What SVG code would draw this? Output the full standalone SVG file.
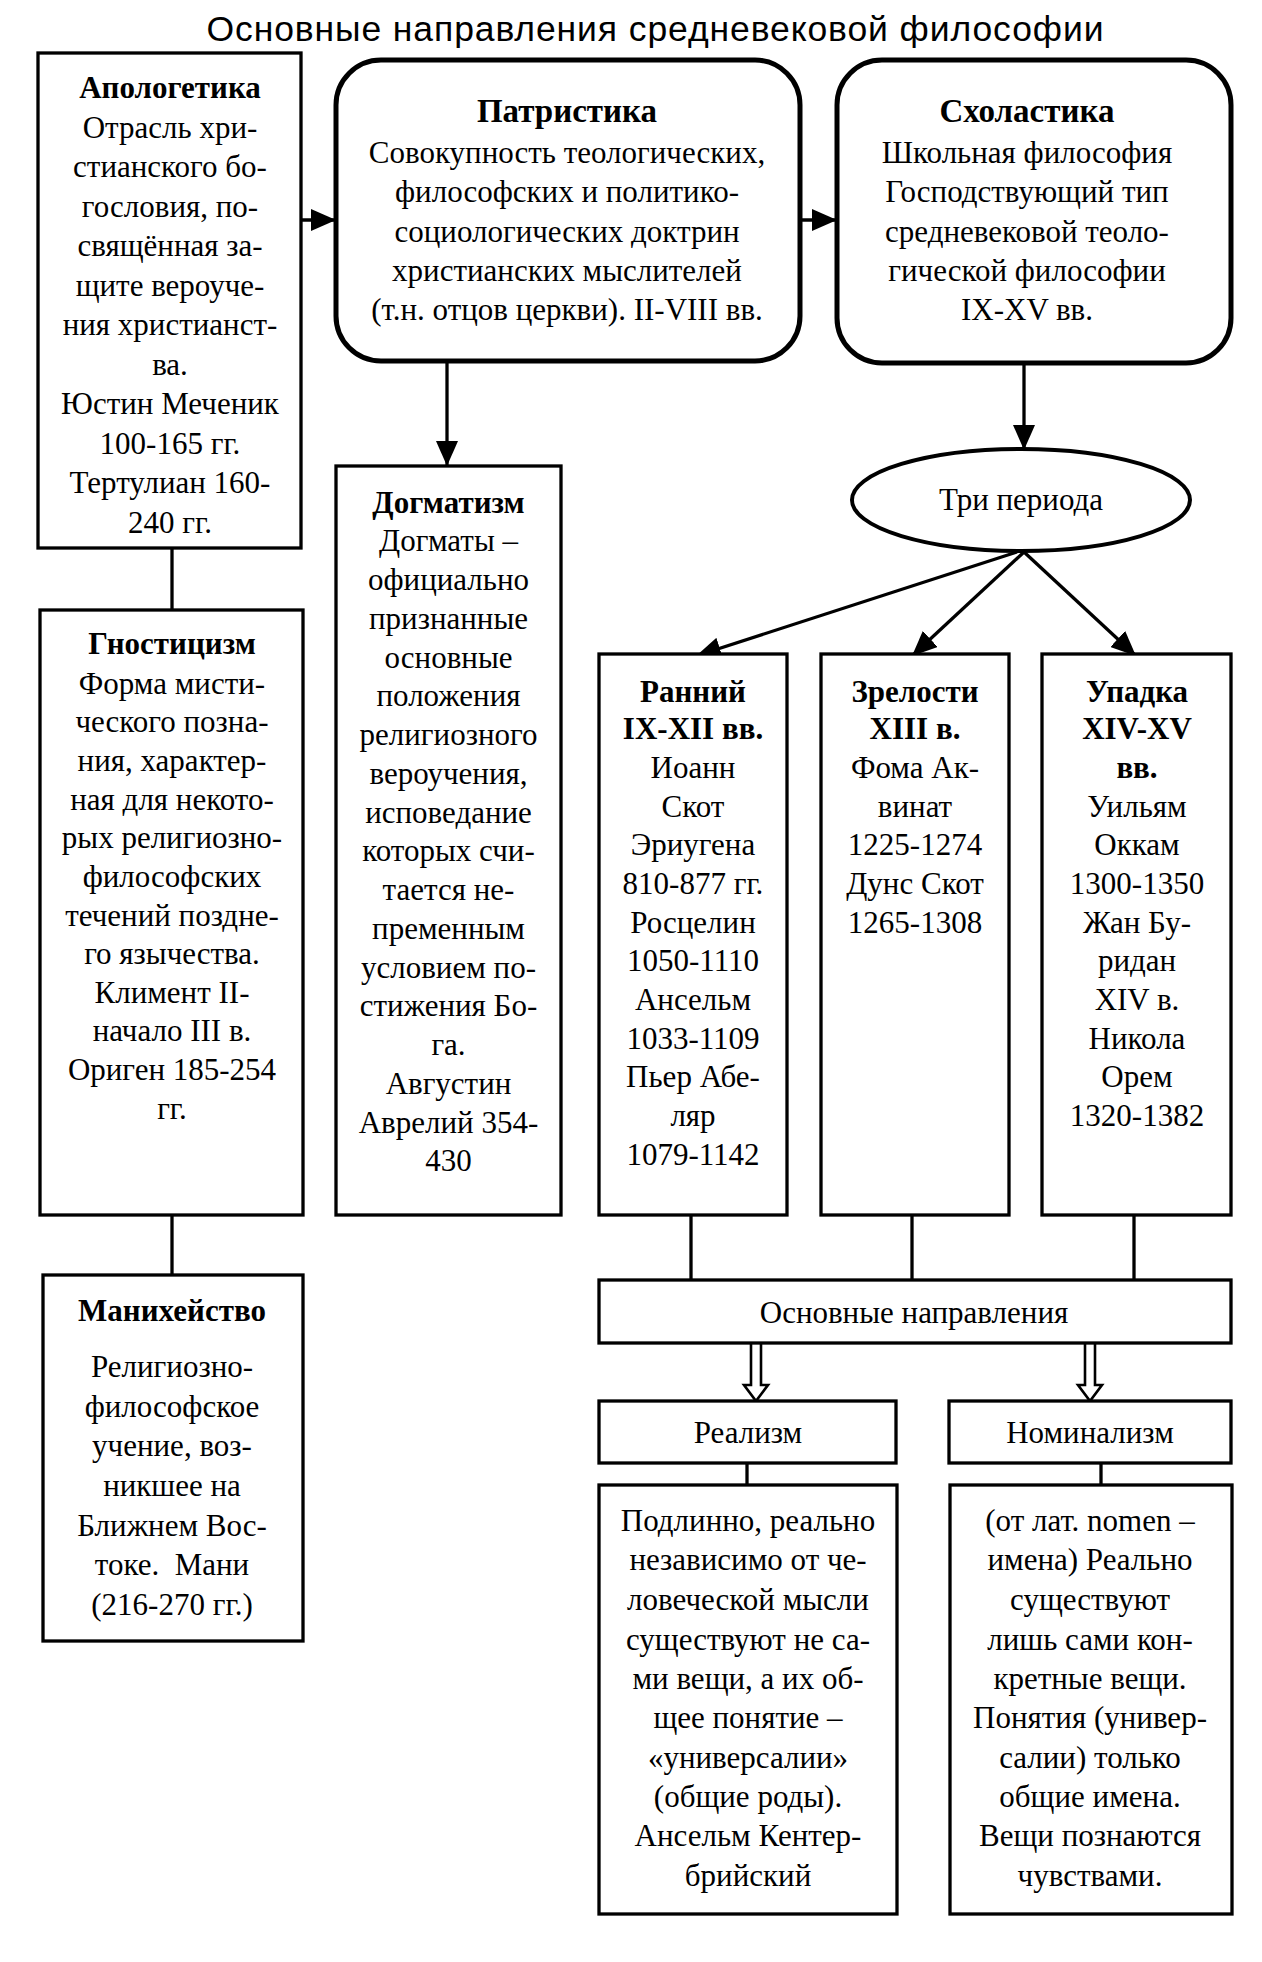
<svg xmlns="http://www.w3.org/2000/svg" width="1262" height="1962" viewBox="0 0 1262 1962">
<style>
.bx{fill:#fff;stroke:#000;stroke-width:3.3}
.rb{fill:#fff;stroke:#000;stroke-width:5}
.ln{fill:none;stroke:#000;stroke-width:3.3}
.da{fill:#fff;stroke:#000;stroke-width:2.6}
text{font-family:"Liberation Serif","Times New Roman",serif;font-size:31px;fill:#000;text-anchor:middle}
.h{font-weight:bold}
.hh{font-weight:bold;font-size:33px}
.ttl{font-family:"Liberation Sans",Arial,sans-serif;font-size:35.5px}
</style>
<defs>
<marker id="ah" markerWidth="25" markerHeight="22" refX="25" refY="11" orient="auto" markerUnits="userSpaceOnUse"><path d="M0,0 L25,11 L0,22 Z" fill="#000"/></marker>
</defs>
<rect width="1262" height="1962" fill="#fff"/>
<text class="ttl" x="655" y="41" textLength="897">Основные направления средневековой философии</text>

<g id="connectors">
<line class="ln" x1="301" y1="220" x2="336" y2="220" marker-end="url(#ah)"/>
<line class="ln" x1="800" y1="220" x2="837" y2="220" marker-end="url(#ah)"/>
<line class="ln" x1="447" y1="361" x2="447" y2="466" marker-end="url(#ah)"/>
<line class="ln" x1="1024" y1="363" x2="1024" y2="450" marker-end="url(#ah)"/>
<line class="ln" x1="1017" y1="552" x2="696" y2="656" marker-end="url(#ah)"/>
<line class="ln" x1="1024" y1="552" x2="912" y2="656" marker-end="url(#ah)"/>
<line class="ln" x1="1024" y1="552" x2="1136" y2="656" marker-end="url(#ah)"/>
<line class="ln" x1="172" y1="548" x2="172" y2="610"/>
<line class="ln" x1="172" y1="1215" x2="172" y2="1275"/>
<line class="ln" x1="691" y1="1215" x2="691" y2="1280"/>
<line class="ln" x1="912" y1="1215" x2="912" y2="1280"/>
<line class="ln" x1="1134" y1="1215" x2="1134" y2="1280"/>
<line class="ln" x1="747" y1="1463" x2="747" y2="1485"/>
<line class="ln" x1="1101" y1="1463" x2="1101" y2="1485"/>
<path class="da" d="M751,1343 V1385 H744 L756,1401 L768,1385 H761 V1343"/>
<path class="da" d="M1085,1343 V1385 H1078 L1090,1401 L1102,1385 H1095 V1343"/>
</g>

<g id="apologetika">
<rect class="bx" x="38" y="53" width="263" height="495"/>
<text class="h" x="170" y="98">Апологетика</text>
<text x="170" y="137.5">Отрасль хри-</text>
<text x="170" y="177">стианского бо-</text>
<text x="170" y="216.5">гословия, по-</text>
<text x="170" y="256">свящённая за-</text>
<text x="170" y="295.5">щите вероуче-</text>
<text x="170" y="335">ния христианст-</text>
<text x="170" y="374.5">ва.</text>
<text x="170" y="414">Юстин Меченик</text>
<text x="170" y="453.5">100-165 гг.</text>
<text x="170" y="493">Тертулиан 160-</text>
<text x="170" y="532.5">240 гг.</text>
</g>

<g id="patristika">
<rect class="rb" x="336" y="60" width="464" height="301" rx="45"/>
<text class="hh" x="567" y="122">Патристика</text>
<text x="567" y="162.5">Совокупность теологических,</text>
<text x="567" y="202">философских и политико-</text>
<text x="567" y="241.5">социологических доктрин</text>
<text x="567" y="281">христианских мыслителей</text>
<text x="567" y="320">(т.н. отцов церкви). II-VIII вв.</text>
</g>

<g id="scholastika">
<rect class="rb" x="837" y="60" width="394" height="303" rx="45"/>
<text class="hh" x="1027" y="122">Схоластика</text>
<text x="1027" y="162.5">Школьная философия</text>
<text x="1027" y="202">Господствующий тип</text>
<text x="1027" y="241.5">средневековой теоло-</text>
<text x="1027" y="281">гической философии</text>
<text x="1027" y="320">IX-XV вв.</text>
</g>

<g id="dogmatizm">
<rect class="bx" x="336" y="466" width="225" height="749"/>
<text class="h" x="448.5" y="512.5">Догматизм</text>
<text x="448.5" y="551.3">Догматы –</text>
<text x="448.5" y="590">официально</text>
<text x="448.5" y="628.8">признанные</text>
<text x="448.5" y="667.6">основные</text>
<text x="448.5" y="706.3">положения</text>
<text x="448.5" y="745">религиозного</text>
<text x="448.5" y="783.8">вероучения,</text>
<text x="448.5" y="822.5">исповедание</text>
<text x="448.5" y="861.3">которых счи-</text>
<text x="448.5" y="900">тается не-</text>
<text x="448.5" y="938.8">пременным</text>
<text x="448.5" y="977.5">условием по-</text>
<text x="448.5" y="1016.3">стижения Бо-</text>
<text x="448.5" y="1055">га.</text>
<text x="448.5" y="1093.8">Августин</text>
<text x="448.5" y="1132.5">Аврелий 354-</text>
<text x="448.5" y="1171.3">430</text>
</g>

<g id="gnosticizm">
<rect class="bx" x="40" y="610" width="263" height="605"/>
<text class="h" x="172" y="654">Гностицизм</text>
<text x="172" y="693.6">Форма мисти-</text>
<text x="172" y="732.2">ческого позна-</text>
<text x="172" y="770.9">ния, характер-</text>
<text x="172" y="809.5">ная для некото-</text>
<text x="172" y="848.2">рых религиозно-</text>
<text x="172" y="886.8">философских</text>
<text x="172" y="925.5">течений поздне-</text>
<text x="172" y="964.1">го язычества.</text>
<text x="172" y="1002.8">Климент II-</text>
<text x="172" y="1041.4">начало III в.</text>
<text x="172" y="1080">Ориген 185-254</text>
<text x="172" y="1118.7">гг.</text>
</g>

<g id="manikheistvo">
<rect class="bx" x="43" y="1275" width="260" height="366"/>
<text class="h" x="172" y="1321">Манихейство</text>
<text x="172" y="1377">Религиозно-</text>
<text x="172" y="1416.7">философское</text>
<text x="172" y="1456.3">учение, воз-</text>
<text x="172" y="1496">никшее на</text>
<text x="172" y="1535.7">Ближнем Вос-</text>
<text x="172" y="1575.3" xml:space="preserve">токе.  Мани</text>
<text x="172" y="1615">(216-270 гг.)</text>
</g>

<g id="tri-perioda">
<ellipse class="rb" cx="1021" cy="500" rx="169" ry="51" style="stroke-width:4"/>
<text x="1021" y="509.5">Три периода</text>
</g>

<g id="rannii">
<rect class="bx" x="599" y="654" width="188" height="561"/>
<text class="h" x="693" y="701.7">Ранний</text>
<text class="h" x="693" y="739.4">IX-XII вв.</text>
<text x="693" y="778">Иоанн</text>
<text x="693" y="816.7">Скот</text>
<text x="693" y="855.3">Эриугена</text>
<text x="693" y="894">810-877 гг.</text>
<text x="693" y="932.6">Росцелин</text>
<text x="693" y="971.2">1050-1110</text>
<text x="693" y="1009.9">Ансельм</text>
<text x="693" y="1048.5">1033-1109</text>
<text x="693" y="1087.2">Пьер Абе-</text>
<text x="693" y="1125.8">ляр</text>
<text x="693" y="1164.5">1079-1142</text>
</g>

<g id="zrelosti">
<rect class="bx" x="821" y="654" width="188" height="561"/>
<text class="h" x="915" y="701.7">Зрелости</text>
<text class="h" x="915" y="739.4">XIII в.</text>
<text x="915" y="778">Фома Ак-</text>
<text x="915" y="816.7">винат</text>
<text x="915" y="855.3">1225-1274</text>
<text x="915" y="894">Дунс Скот</text>
<text x="915" y="932.6">1265-1308</text>
</g>

<g id="upadka">
<rect class="bx" x="1042" y="654" width="189" height="561"/>
<text class="h" x="1137" y="701.7">Упадка</text>
<text class="h" x="1137" y="739.4">XIV-XV</text>
<text class="h" x="1137" y="778">вв.</text>
<text x="1137" y="816.7">Уильям</text>
<text x="1137" y="855.3">Оккам</text>
<text x="1137" y="894">1300-1350</text>
<text x="1137" y="932.6">Жан Бу-</text>
<text x="1137" y="971.2">ридан</text>
<text x="1137" y="1009.9">XIV в.</text>
<text x="1137" y="1048.5">Никола</text>
<text x="1137" y="1087.2">Орем</text>
<text x="1137" y="1125.8">1320-1382</text>
</g>

<g id="osnovnye">
<rect class="bx" x="599" y="1280" width="632" height="63"/>
<text x="914" y="1323">Основные направления</text>
</g>

<g id="realizm">
<rect class="bx" x="599" y="1401" width="297" height="62"/>
<text x="748" y="1443">Реализм</text>
</g>

<g id="nominalizm">
<rect class="bx" x="949" y="1401" width="282" height="62"/>
<text x="1090" y="1443">Номинализм</text>
</g>

<g id="realizm-text">
<rect class="bx" x="599" y="1485" width="298" height="429"/>
<text x="748" y="1530.6">Подлинно, реально</text>
<text x="748" y="1570.2">независимо от че-</text>
<text x="748" y="1609.9">ловеческой мысли</text>
<text x="748" y="1649.6">существуют не са-</text>
<text x="748" y="1689.2">ми вещи, а их об-</text>
<text x="748" y="1727.9">щее понятие –</text>
<text x="748" y="1767.5">«универсалии»</text>
<text x="748" y="1807.2">(общие роды).</text>
<text x="748" y="1845.9">Ансельм Кентер-</text>
<text x="748" y="1885.5">брийский</text>
</g>

<g id="nominalizm-text">
<rect class="bx" x="950" y="1485" width="282" height="429"/>
<text x="1090" y="1530.6">(от лат. nomen –</text>
<text x="1090" y="1570.2">имена) Реально</text>
<text x="1090" y="1609.9">существуют</text>
<text x="1090" y="1649.6">лишь сами кон-</text>
<text x="1090" y="1689.2">кретные вещи.</text>
<text x="1090" y="1727.9">Понятия (универ-</text>
<text x="1090" y="1767.5">салии) только</text>
<text x="1090" y="1807.2">общие имена.</text>
<text x="1090" y="1845.9">Вещи познаются</text>
<text x="1090" y="1885.5">чувствами.</text>
</g>
</svg>
